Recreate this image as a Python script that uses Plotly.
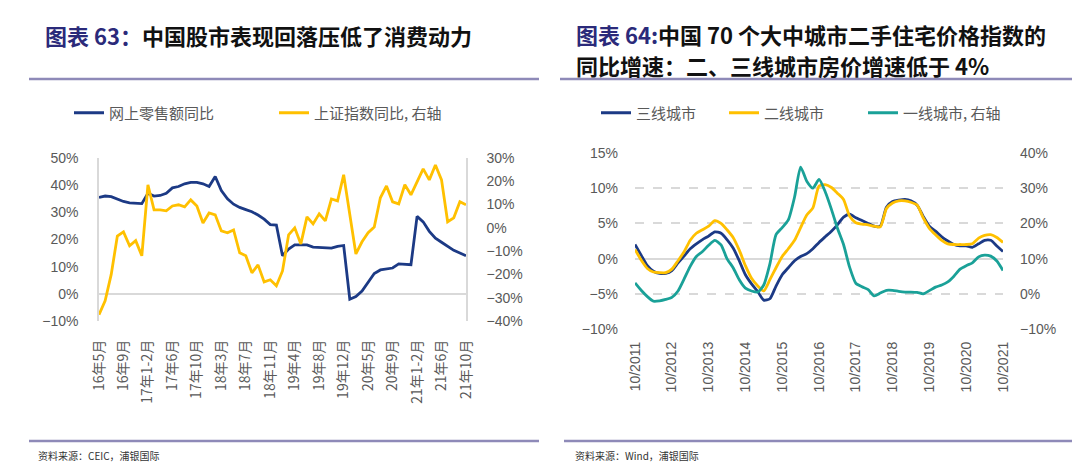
import plotly.graph_objects as go
import pandas as pd

W, H = 1080, 467

# ---------------- Left chart data ----------------
left_months_first = ["5月", "6月", "7月", "8月", "9月", "10月", "11月", "12月"]
left_months_full = ["1-2月", "3月", "4月", "5月", "6月", "7月", "8月", "9月", "10月", "11月", "12月"]
left_months_last = ["1-2月", "3月", "4月", "5月", "6月", "7月", "8月", "9月", "10月"]

categories = [f"16年{m}" for m in left_months_first]
for y in ["17", "18", "19", "20"]:
    categories += [f"{y}年{m}" for m in left_months_full]
categories += [f"21年{m}" for m in left_months_last]

online_retail_yoy = [35.5, 36.0, 35.8, 35.0, 34.0, 33.5, 33.3, 33.2,
                     37.0, 36.0, 36.2, 37.0, 39.0, 39.5, 40.5, 41.0, 41.0, 40.5, 39.5, 43.2,
                     38.0, 35.0, 33.0, 31.8, 31.0, 30.2, 29.0, 27.5, 25.5, 25.3,
                     14.0, 16.5, 18.0, 18.0, 18.0, 17.2, 17.0, 16.8, 16.8, 17.5, 17.8,
                     -2.0, -1.0, 1.0, 4.5, 7.5, 8.8, 9.2, 9.5, 11.0, 10.8, 10.7,
                     28.5, 26.5, 23.0, 20.5, 19.0, 17.5, 16.0, 15.0, 14.0]

sse_yoy = [-37.3, -31.3, -20.0, -3.5, -1.7, -7.7, -5.5, -12.0,
           18.5, 7.7, 7.7, 7.3, 9.4, 9.9, 9.0, 12.0, 9.4, 2.1, 6.4, 5.6,
           -1.3, -2.1, -0.9, -10.7, -12.0, -19.3, -15.9, -23.2, -22.3, -24.9,
           -18.5, -3.0, 0.0, -6.9, 4.7, 1.7, 6.0, 3.0, 12.4, 11.6, 22.8,
           5.0, -11.2, -6.0, -2.1, 0.4, 12.9, 18.0, 11.2, 10.3, 18.5, 14.2,
           20.0, 25.3, 20.6, 27.0, 20.6, 2.6, 4.3, 11.2, 9.9]

left_tick_labels = categories[::4]

# ---------------- Right chart data ----------------
dates = pd.date_range("2011-10-01", "2021-10-01", freq="2MS")

tier3 = [2.0, 0.5, -1.0, -1.8, -2.1, -2.1, -1.7, -0.6, 0.4, 1.4,
         2.1, 2.7, 3.2, 3.8, 3.6, 2.7, 1.5, -0.3, -2.3, -3.6,
         -4.7, -5.9, -5.7, -3.9, -2.3, -1.3, -0.3, 0.3, 0.7, 1.4,
         2.3, 3.1, 3.9, 4.8, 5.9, 6.3, 5.8, 5.4, 5.0, 4.6,
         4.6, 7.3, 8.1, 8.3, 8.4, 8.2, 7.6, 6.0, 4.6, 3.9,
         3.1, 2.5, 2.0, 1.8, 1.8, 1.6, 2.1, 2.6, 2.6, 1.8, 1.0]

tier2 = [1.3, -0.2, -1.4, -1.9, -2.0, -2.0, -1.5, -0.3, 1.0, 2.6,
         3.6, 4.1, 4.6, 5.4, 5.0, 4.1, 3.0, 1.2, -1.0, -2.8,
         -3.9, -4.6, -3.0, -1.3, 0.3, 1.4, 2.6, 4.4, 6.2, 7.2,
         10.3, 10.5, 10.1, 9.3, 8.4, 6.0, 5.1, 4.9, 4.8, 4.6,
         4.5, 7.1, 7.9, 8.2, 8.2, 8.0, 7.6, 5.8, 4.3, 3.4,
         2.6, 2.1, 2.0, 2.0, 2.0, 2.1, 2.9, 3.3, 3.4, 3.0, 2.3]

tier1 = [3.1, 1.0, -0.8, -2.1, -2.0, -1.6, -1.0, 0.8, 4.3, 7.8,
         10.6, 12.0, 13.8, 15.2, 13.9, 10.0, 7.4, 4.0, 1.6, 0.8,
         0.5, 2.5, 8.5, 16.8, 18.8, 21.0, 27.5, 36.0, 32.0, 30.0,
         32.5, 29.0, 24.0, 18.7, 14.0, 7.5, 3.0, 2.0, 1.2, -0.6,
         0.2, 1.0, 1.0, 0.7, 0.5, 0.5, 0.4, 0.0, 0.9, 1.9,
         2.5, 3.4, 5.0, 7.0, 8.0, 8.8, 10.5, 11.0, 10.7, 9.3, 6.6]

right_tick_dates = pd.date_range("2011-10-01", "2021-10-01", freq="12MS")
right_tick_labels = [f"10/{d.year}" for d in right_tick_dates]

# ---------------- Styling ----------------
NAVY = "#1c3a85"
GOLD = "#ffc000"
TEAL = "#1aa198"
GRID = "#d9d9d9"
TICK = "#595959"
RULE = "#8e8ab8"
TITLE_BLUE = "#2b2a7a"
CJK = "Noto Sans CJK SC"
NUM = "Liberation Sans, " + CJK


def px(x):
    return x / W


def py(y):
    return 1 - y / H


fig = go.Figure()

fig.add_trace(go.Scatter(x=categories, y=online_retail_yoy, name="网上零售额同比",
                         mode="lines", line=dict(color=NAVY, width=2.8),
                         xaxis="x", yaxis="y", legend="legend"))
fig.add_trace(go.Scatter(x=categories, y=sse_yoy, name="上证指数同比, 右轴",
                         mode="lines", line=dict(color=GOLD, width=2.8),
                         xaxis="x", yaxis="y2", legend="legend"))

fig.add_trace(go.Scatter(x=dates, y=tier3, name="三线城市", mode="lines",
                         line=dict(color=NAVY, width=2.8, shape="spline", smoothing=0.6),
                         xaxis="x2", yaxis="y3", legend="legend2"))
fig.add_trace(go.Scatter(x=dates, y=tier2, name="二线城市", mode="lines",
                         line=dict(color=GOLD, width=2.8, shape="spline", smoothing=0.6),
                         xaxis="x2", yaxis="y3", legend="legend2"))
fig.add_trace(go.Scatter(x=dates, y=tier1, name="一线城市, 右轴", mode="lines",
                         line=dict(color=TEAL, width=2.8, shape="spline", smoothing=0.6),
                         xaxis="x2", yaxis="y4", legend="legend3"))

left_dom_x = [px(91), px(458)]
left_dom_y = [py(313), py(150)]
right_dom_x = [px(627), px(995)]
right_dom_y = [py(321), py(145)]

tickfont = dict(family=NUM, size=14, color=TICK)
legend_font = dict(family=CJK, size=15, color=TICK)

fig.update_layout(
    width=W, height=H,
    margin=dict(l=0, r=0, t=0, b=0, autoexpand=False),
    paper_bgcolor="white", plot_bgcolor="white",
    showlegend=True,
    xaxis=dict(domain=left_dom_x, anchor="y", type="category",
               range=[0, 60], tickmode="array", tickvals=left_tick_labels,
               ticktext=left_tick_labels, tickangle=-90,
               tickfont=dict(family=CJK, size=14, color=TICK),
               showgrid=False, showline=False, zeroline=False,
               ticks="", ticklabelstandoff=15, automargin=False),
    yaxis=dict(domain=left_dom_y, anchor="x", range=[-10, 50], dtick=10,
               ticksuffix="%", tickfont=tickfont, showgrid=False,
               zeroline=True, zerolinecolor=GRID, zerolinewidth=1.5,
               showline=True, linecolor=GRID, linewidth=1.5,
               ticks="", ticklabelstandoff=16, automargin=False),
    yaxis2=dict(domain=left_dom_y, anchor="x", overlaying="y", side="right",
                range=[-40, 30], dtick=10, ticksuffix="%", tickfont=tickfont,
                showgrid=False, zeroline=False,
                showline=True, linecolor=GRID, linewidth=1.5,
                ticks="", ticklabelstandoff=16, automargin=False),
    xaxis2=dict(domain=right_dom_x, anchor="y3", type="date",
                range=["2011-10-01", "2021-10-01"], tickmode="array",
                tickvals=list(right_tick_dates), ticktext=right_tick_labels,
                tickangle=-90, tickfont=dict(family=NUM, size=14, color=TICK),
                showgrid=False, showline=False, zeroline=False,
                ticks="", ticklabelstandoff=9, automargin=False),
    yaxis3=dict(domain=right_dom_y, anchor="x2", range=[-10, 15], dtick=5,
                ticksuffix="%", tickfont=tickfont, showgrid=True,
                gridcolor=GRID, griddash="dash", gridwidth=1.5,
                zeroline=True, zerolinecolor=GRID, zerolinewidth=2,
                showline=False, ticks="", ticklabelstandoff=16, automargin=False),
    yaxis4=dict(domain=right_dom_y, anchor="x2", overlaying="y3", side="right",
                range=[-10, 40], dtick=10, ticksuffix="%", tickfont=tickfont,
                showgrid=False, zeroline=False, showline=False,
                ticks="", ticklabelstandoff=16, automargin=False),
    legend=dict(orientation="h", x=px(61), y=py(105), xanchor="left", yanchor="middle",
                font=legend_font, bgcolor="rgba(0,0,0,0)",
                entrywidth=160, entrywidthmode="pixels", traceorder="normal"),
    legend2=dict(orientation="h", x=px(588), y=py(105), xanchor="left", yanchor="middle",
                 font=legend_font, bgcolor="rgba(0,0,0,0)",
                 entrywidth=83, entrywidthmode="pixels", traceorder="normal"),
    legend3=dict(orientation="h", x=px(855), y=py(105), xanchor="left", yanchor="middle",
                 font=legend_font, bgcolor="rgba(0,0,0,0)", traceorder="normal"),
)

fig.add_annotation(x=px(35), y=py(27), xref="paper", yref="paper", xanchor="left",
                   yanchor="middle", showarrow=False, align="left",
                   text=f"<b><span style='color:{TITLE_BLUE}'>图表 63：</span>中国股市表现回落压低了消费动力</b>",
                   font=dict(family=CJK, size=22, color="#111111"))
fig.add_annotation(x=px(566), y=py(26), xref="paper", yref="paper", xanchor="left",
                   yanchor="middle", showarrow=False, align="left",
                   text=f"<b><span style='color:{TITLE_BLUE}'>图表 64:</span>中国 70 个大中城市二手住宅价格指数的</b>",
                   font=dict(family=CJK, size=22, color="#111111"))
fig.add_annotation(x=px(566), y=py(57), xref="paper", yref="paper", xanchor="left",
                   yanchor="middle", showarrow=False, align="left",
                   text="<b>同比增速：二、三线城市房价增速低于 4%</b>",
                   font=dict(family=CJK, size=22, color="#111111"))

fig.add_annotation(x=px(28), y=py(447), xref="paper", yref="paper", xanchor="left",
                   yanchor="middle", showarrow=False, text="资料来源：CEIC，浦银国际",
                   font=dict(family=CJK, size=10, color="#333333"))
fig.add_annotation(x=px(565), y=py(447), xref="paper", yref="paper", xanchor="left",
                   yanchor="middle", showarrow=False, text="资料来源：Wind，浦银国际",
                   font=dict(family=CJK, size=10, color="#333333"))

for x0, x1, yy in [(21, 531, 71), (552, 1068, 71), (21, 531, 433), (556, 1073, 433)]:
    fig.add_shape(type="line", xref="paper", yref="paper",
                  x0=px(x0), x1=px(x1), y0=py(yy), y1=py(yy),
                  line=dict(color=RULE, width=2.5))

fig.write_html("out.html")
